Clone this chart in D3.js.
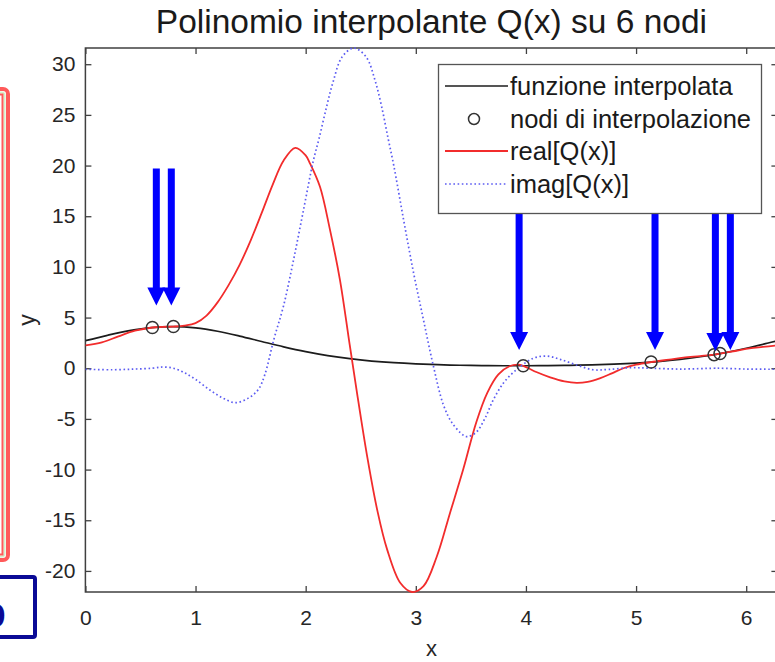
<!DOCTYPE html>
<html>
<head>
<meta charset="utf-8">
<script src="https://cdn.jsdelivr.net/npm/d3@7"></script>
<style>
  html, body { margin: 0; padding: 0; background: #fff; }
  svg { display: block; font-family: "Liberation Sans", Arial, Helvetica, sans-serif; }
</style>
</head>
<body>
<svg id="chart" width="775" height="662"></svg>
<script>
// Interpolated function f(x) = exp(sin x + cos x), sampled on [0, 2π]
const fX = [0, 0.2, 0.4, 0.6, 0.8, 1.0, 1.2, 1.4, 1.6, 1.8, 2.0, 2.2, 2.4, 2.6, 2.8, 3.0,
            3.2, 3.4, 3.6, 3.8, 4.0, 4.2, 4.4, 4.6, 4.8, 5.0, 5.2, 5.4, 5.6, 5.8, 6.0, 6.2, 6.2832];
const fY = [2.718, 3.250, 3.708, 4.014, 4.113, 3.982, 3.649, 3.175, 2.639, 2.110, 1.638, 1.246,
            0.940, 0.711, 0.545, 0.428, 0.348, 0.295, 0.262, 0.246, 0.244, 0.256, 0.284, 0.331,
            0.403, 0.509, 0.660, 0.871, 1.155, 1.523, 1.975, 2.493, 2.718];

// Interpolation nodes
const nodeX = [0.608, 0.799, 3.975, 5.136, 5.708, 5.762];
const nodeY = [4.02, 4.11, 0.24, 0.61, 1.34, 1.45];

// Real part of Q(x)
const reX = [0, 0.15, 0.30, 0.45, 0.608, 0.70, 0.799, 0.90, 1.00, 1.10, 1.20, 1.30, 1.40, 1.50,
             1.60, 1.70, 1.80, 1.906, 2.00, 2.04, 2.13, 2.22, 2.31, 2.40, 2.48, 2.56, 2.65, 2.74,
             2.86, 2.965, 3.07, 3.19, 3.31, 3.43, 3.55, 3.65, 3.75, 3.85, 3.93, 3.975, 4.10, 4.22,
             4.35, 4.46, 4.56, 4.67, 4.78, 4.885, 5.00, 5.136, 5.30, 5.43, 5.58, 5.708, 5.762,
             5.90, 6.03, 6.15, 6.2832];
const reY = [2.25, 2.55, 3.15, 3.70, 4.02, 4.08, 4.11, 4.20, 4.45, 5.20, 6.50, 8.20, 10.20, 12.60,
             15.30, 18.10, 20.50, 21.75, 21.00, 20.20, 17.90, 13.70, 8.80, 2.30, -3.40, -8.80, -14.00,
             -17.90, -21.20, -22.08, -21.50, -18.60, -14.30, -10.00, -5.30, -2.40, -0.60, 0.20, 0.35,
             0.24, -0.40, -0.90, -1.30, -1.45, -1.35, -1.00, -0.50, 0.00, 0.35, 0.61, 0.85, 1.05,
             1.20, 1.34, 1.45, 1.70, 1.96, 2.10, 2.25];

// Imaginary part of Q(x)
const imX = [0, 0.25, 0.45, 0.608, 0.70, 0.799, 0.90, 1.00, 1.13, 1.25, 1.36, 1.48, 1.57, 1.63,
             1.71, 1.80, 1.89, 1.98, 2.07, 2.12, 2.19, 2.25, 2.33, 2.437, 2.55, 2.63, 2.69, 2.75,
             2.80, 2.89, 2.98, 3.07, 3.16, 3.25, 3.33, 3.43, 3.47, 3.55, 3.63, 3.70, 3.80, 3.93,
             4.07, 4.19, 4.31, 4.46, 4.61, 4.75, 4.95, 5.136, 5.40, 5.708, 5.762, 6.00, 6.2832];
const imY = [-0.10, -0.15, -0.08, 0.00, 0.12, 0.00, -0.45, -1.10, -2.15, -2.95, -3.40, -2.95, -2.10,
             -0.60, 2.80, 6.20, 10.70, 15.60, 20.50, 22.60, 25.80, 28.30, 30.70, 31.60, 30.70, 28.40,
             25.80, 22.60, 20.00, 14.60, 9.40, 4.75, 0.20, -3.60, -5.40, -6.60, -6.75, -6.30, -4.90,
             -3.20, -1.40, 0.00, 1.00, 1.20, 0.88, 0.32, -0.15, -0.12, 0.05, 0.00, -0.08, 0.00, 0.00,
             -0.08, -0.10];

// Axis ticks
const xTicks = [0, 1, 2, 3, 4, 5, 6];
const yTicks = [-20, -15, -10, -5, 0, 5, 10, 15, 20, 25, 30];

// Arrow annotations pointing at the nodes (data units: x, tip y, tail y)
const arrowX    = [0.644, 0.780, 3.938, 5.172, 5.720, 5.856];
const arrowTipY = [6.2, 6.2, 1.8, 1.8, 1.7, 1.8];
const arrowTopY = [19.7, 19.7, 15.3, 15.3, 15.3, 15.3];

const legendLabels = ["funzione interpolata", "nodi di interpolazione", "real[Q(x)]", "imag[Q(x)]"];
const titleText = "Polinomio interpolante Q(x) su 6 nodi";

const svg = d3.select("#chart");
const W = 775, H = 662;
const margin = { left: 85.4, top: 48, right: 777.4, bottom: 592 };

const yMin = d3.min(reY.concat(imY));
const yMax = d3.max(reY.concat(imY));

const x = d3.scaleLinear().domain([0, 2 * Math.PI]).range([margin.left, margin.right]);
const y = d3.scaleLinear().domain([yMin, yMax]).range([margin.bottom, margin.top]);

svg.append("rect").attr("width", W).attr("height", H).attr("fill", "#fff");

const axisColor = "#404040";
const tickFont = 21;

// Bottom axis with labels
const gx = svg.append("g").attr("transform", `translate(0,${margin.bottom})`)
  .call(d3.axisBottom(x).tickValues(xTicks).tickFormat(d3.format("d")).tickSize(-6).tickPadding(18));
// Top axis (ticks only)
const gxt = svg.append("g").attr("transform", `translate(0,${margin.top})`)
  .call(d3.axisTop(x).tickValues(xTicks).tickFormat("").tickSize(-6));
// Left axis with labels
const gy = svg.append("g").attr("transform", `translate(${margin.left},0)`)
  .call(d3.axisLeft(y).tickValues(yTicks).tickFormat(d3.format("d")).tickSize(-6).tickPadding(10));
// Right axis (ticks only)
const gyr = svg.append("g").attr("transform", `translate(${margin.right},0)`)
  .call(d3.axisRight(y).tickValues(yTicks).tickFormat("").tickSize(-6));

[gx, gxt, gy, gyr].forEach(g => {
  g.select(".domain").remove();
  g.selectAll(".tick line").attr("stroke", axisColor).attr("stroke-width", 1.3);
  g.selectAll(".tick text").attr("fill", "#262626").attr("font-size", tickFont)
    .attr("font-family", "'Liberation Sans', Arial, sans-serif");
});
gy.selectAll(".tick text").text(d => d < 0 ? "-" + Math.abs(d) : d);

// Axes box
svg.append("rect")
  .attr("x", margin.left).attr("y", margin.top)
  .attr("width", margin.right - margin.left).attr("height", margin.bottom - margin.top)
  .attr("fill", "none").attr("stroke", axisColor).attr("stroke-width", 1.5);

// Plot area clip
svg.append("defs").append("clipPath").attr("id", "plotclip")
  .append("rect").attr("x", margin.left).attr("y", margin.top - 2)
  .attr("width", margin.right - margin.left).attr("height", margin.bottom - margin.top + 4);

const plot = svg.append("g").attr("clip-path", "url(#plotclip)");
const curve = d3.curveCatmullRom.alpha(0.5);
const line = d3.line().x(d => x(d[0])).y(d => y(d[1])).curve(curve);

const fData = d3.zip(fX, fY);
const reData = d3.zip(reX, reY);
const imData = d3.zip(imX, imY);

const blackC = "#1c1c1c", redC = "#f22c2c", blueC = "#5c5cf2";

plot.append("path").datum(fData).attr("d", line)
  .attr("fill", "none").attr("stroke", blackC).attr("stroke-width", 1.7);
plot.append("path").datum(reData).attr("d", line)
  .attr("fill", "none").attr("stroke", redC).attr("stroke-width", 1.8);
plot.append("path").datum(imData).attr("d", line)
  .attr("fill", "none").attr("stroke", blueC).attr("stroke-width", 1.7)
  .attr("stroke-dasharray", "1.6,2.6");

plot.selectAll("circle.node").data(d3.zip(nodeX, nodeY)).enter().append("circle")
  .attr("class", "node")
  .attr("cx", d => x(d[0])).attr("cy", d => y(d[1])).attr("r", 6)
  .attr("fill", "none").attr("stroke", "#333").attr("stroke-width", 1.5);

// Blue arrows
const shaftW = 7, headW = 18, headH = 18;
d3.range(arrowX.length).forEach(i => {
  const cx = x(arrowX[i]), tip = y(arrowTipY[i]), top = y(arrowTopY[i]);
  const p = d3.path();
  p.moveTo(cx - shaftW / 2, top);
  p.lineTo(cx + shaftW / 2, top);
  p.lineTo(cx + shaftW / 2, tip - headH);
  p.lineTo(cx + headW / 2, tip - headH);
  p.lineTo(cx, tip);
  p.lineTo(cx - headW / 2, tip - headH);
  p.lineTo(cx - shaftW / 2, tip - headH);
  p.closePath();
  svg.append("path").attr("d", p.toString()).attr("fill", "#0000ff");
});

// Legend
const lg = svg.append("g");
lg.append("rect").attr("x", 438.5).attr("y", 64.5).attr("width", 323).attr("height", 149)
  .attr("fill", "#fff").attr("stroke", "#555").attr("stroke-width", 1.3);
const rowY = [86, 119, 151, 184];
lg.append("line").attr("x1", 445).attr("x2", 508).attr("y1", rowY[0]).attr("y2", rowY[0])
  .attr("stroke", blackC).attr("stroke-width", 1.7);
lg.append("circle").attr("cx", 474).attr("cy", rowY[1]).attr("r", 5.5)
  .attr("fill", "none").attr("stroke", "#333").attr("stroke-width", 1.5);
lg.append("line").attr("x1", 445).attr("x2", 508).attr("y1", rowY[2]).attr("y2", rowY[2])
  .attr("stroke", redC).attr("stroke-width", 1.8);
lg.append("line").attr("x1", 445).attr("x2", 508).attr("y1", rowY[3]).attr("y2", rowY[3])
  .attr("stroke", blueC).attr("stroke-width", 1.7).attr("stroke-dasharray", "1.6,2.6");
legendLabels.forEach((t, i) => {
  lg.append("text").attr("x", 510).attr("y", rowY[i]).attr("dy", "0.36em")
    .attr("font-size", 25.5).attr("fill", "#1a1a1a").text(t);
});

// Title and axis labels
svg.append("text").attr("x", (margin.left + margin.right) / 2).attr("y", 33)
  .attr("text-anchor", "middle").attr("font-size", 33.5).attr("fill", "#1a1a1a").text(titleText);
svg.append("text").attr("x", (margin.left + margin.right) / 2).attr("y", 656)
  .attr("text-anchor", "middle").attr("font-size", 22).attr("fill", "#262626").text("x");
svg.append("text").attr("transform", `translate(35,${(margin.top + margin.bottom) / 2}) rotate(-90)`)
  .attr("text-anchor", "middle").attr("font-size", 23).attr("fill", "#262626").text("y");

// Side frames
svg.append("rect").attr("x", -40).attr("y", 89).attr("width", 48).attr("height", 471).attr("rx", 5)
  .attr("fill", "none").attr("stroke", "#ff5a5a").attr("stroke-width", 4);
svg.append("rect").attr("x", -40).attr("y", 92.5).attr("width", 44.5).attr("height", 464).attr("rx", 3)
  .attr("fill", "none").attr("stroke", "#d4f2cc").attr("stroke-width", 2);
svg.append("rect").attr("x", -40).attr("y", 94.5).attr("width", 42.5).attr("height", 460)
  .attr("fill", "none").attr("stroke", "#ff5a5a").attr("stroke-width", 2);

svg.append("rect").attr("x", -20).attr("y", 577).attr("width", 55).attr("height", 60).attr("rx", 2)
  .attr("fill", "none").attr("stroke", "#0a0a96").attr("stroke-width", 4);
svg.append("text").attr("x", 6).attr("y", 627).attr("text-anchor", "end")
  .attr("font-size", 42).attr("font-weight", "bold").attr("fill", "#0a0a96").text("b");
</script>
</body>
</html>
